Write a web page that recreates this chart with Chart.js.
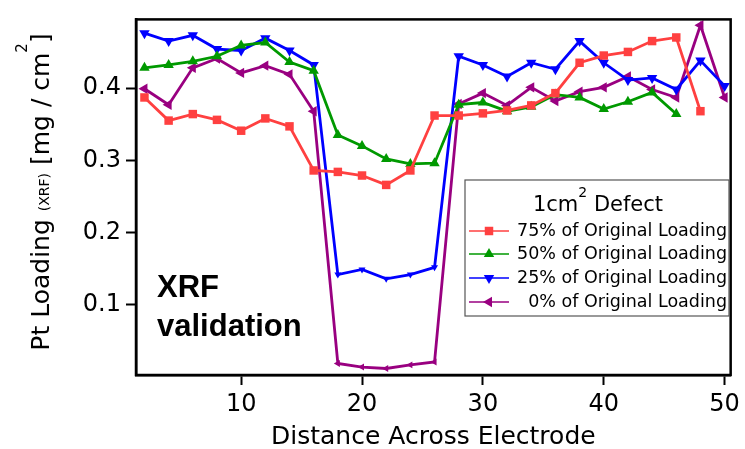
<!DOCTYPE html>
<html>
<head>
    <meta charset="utf-8" />
    <title>XRF validation</title>
    <script src="https://cdn.jsdelivr.net/npm/chart.js"></script>
    <style>
        body { margin: 0; background: #fff; }
    </style>
</head>
<body>
    <canvas id="myChart" width="745" height="449"></canvas>

    <script type="text/javascript">

        // distance positions across the electrode
        const distance = [2, 4, 6, 8, 10, 12, 14, 16, 18, 20, 22, 24, 26, 28, 30, 32, 34, 36, 38, 40, 42, 44, 46, 48, 50];

        // Pt loading (mg/cm2) per series
        const loading75 = [0.387, 0.355, 0.364, 0.356, 0.341, 0.358, 0.347, 0.286, 0.284, 0.279, 0.266, 0.286, 0.362, 0.362, 0.365, 0.369, 0.376, 0.393, 0.435, 0.445, 0.450, 0.465, 0.470, 0.368];
        const loading50 = [0.428, 0.432, 0.437, 0.444, 0.459, 0.463, 0.436, 0.424, 0.335, 0.320, 0.302, 0.295, 0.296, 0.377, 0.380, 0.368, 0.374, 0.391, 0.387, 0.371, 0.381, 0.394, 0.364];
        const loading25 = [0.476, 0.465, 0.473, 0.454, 0.452, 0.469, 0.452, 0.432, 0.142, 0.149, 0.136, 0.142, 0.152, 0.444, 0.432, 0.416, 0.435, 0.426, 0.465, 0.435, 0.411, 0.414, 0.398, 0.438, 0.403];
        const loading0 = [0.399, 0.377, 0.428, 0.441, 0.421, 0.431, 0.419, 0.368, 0.019, 0.014, 0.012, 0.017, 0.021, 0.378, 0.393, 0.376, 0.401, 0.382, 0.395, 0.401, 0.416, 0.398, 0.387, 0.487, 0.387];

        const seriesLabels = ["75% of Original Loading", "50% of Original Loading", "25% of Original Loading", "0% of Original Loading"];
        const xTicks = [10, 20, 30, 40, 50];
        const yTicks = [0.1, 0.2, 0.3, 0.4];

        const FONT = "'DejaVu Sans', sans-serif";
        const colors = ["#ff4040", "#009900", "#0000ff", "#990080"];
        const shapes = ["rect", "triangle", "triangle", "triangle"];
        const rotations = [0, 0, 180, 270];

        const toPoints = ys => ys.map((y, i) => ({ x: distance[i], y: y }));

        // markers in the defect region are drawn smaller for the two low series
        const dipRadius = ctx => (ctx.raw && ctx.raw.x >= 18 && ctx.raw.x <= 26) ? 4 : 6;

        const makeSet = (k, ys, radius) => ({
            label: seriesLabels[k],
            data: toPoints(ys),
            borderColor: colors[k],
            backgroundColor: colors[k],
            borderWidth: 2.8,
            pointStyle: shapes[k],
            pointRotation: rotations[k],
            pointRadius: radius,
            pointBorderWidth: 0,
            tension: 0,
            clip: false
        });

        // draws text parts side by side, each with its own size and baseline shift
        const drawParts = (ctx, parts, x, y, align) => {
            let total = 0;
            parts.forEach(p => { ctx.font = p.s + "px " + FONT; p.w = ctx.measureText(p.t).width; total += p.w; });
            let px = align === "center" ? x - total / 2 : x;
            ctx.textAlign = "left";
            parts.forEach(p => {
                ctx.font = p.s + "px " + FONT;
                ctx.fillText(p.t, px, y + p.dy);
                px += p.w;
            });
        };

        // draws frame, y title with sub/superscript, legend box and annotation
        const decorations = {
            id: 'decorations',
            afterDraw(chart) {
                const ctx = chart.ctx;
                const a = chart.chartArea;
                ctx.save();

                // full frame round the plot
                ctx.strokeStyle = "#000";
                ctx.lineWidth = 2.5;
                ctx.strokeRect(a.left, a.top, a.right - a.left, a.bottom - a.top);

                // y axis title
                ctx.fillStyle = "#000";
                ctx.textBaseline = "alphabetic";
                ctx.translate(49, 192);
                ctx.rotate(-Math.PI / 2);
                drawParts(ctx, [
                    { t: "Pt Loading ", s: 25, dy: 0 },
                    { t: "(XRF)", s: 14, dy: 0 },
                    { t: " [mg / cm", s: 25, dy: 0 },
                    { t: "2", s: 15, dy: -22 },
                    { t: "]", s: 25, dy: 0 }
                ], 0, 0, "center");
                ctx.setTransform(1, 0, 0, 1, 0, 0);

                // annotation
                ctx.font = "bold 31px 'Liberation Sans', Arial, sans-serif";
                ctx.textAlign = "left";
                ctx.fillText("XRF", 157, 297);
                ctx.fillText("validation", 157, 336);

                // legend box
                const bx = 465, by = 180, bw = 264, bh = 136;
                ctx.fillStyle = "#fff";
                ctx.fillRect(bx, by, bw, bh);
                ctx.strokeStyle = "#555";
                ctx.lineWidth = 1.2;
                ctx.strokeRect(bx, by, bw, bh);

                // legend title 1cm^2 Defect
                ctx.fillStyle = "#000";
                drawParts(ctx, [
                    { t: "1cm", s: 21, dy: 0 },
                    { t: "2", s: 14, dy: -14 },
                    { t: " Defect", s: 21, dy: 0 }
                ], 598, 211, "center");

                // legend entries
                const rowY = [231, 254, 278, 302];
                chart.data.datasets.forEach((ds, k) => {
                    const y = rowY[k];
                    ctx.strokeStyle = ds.borderColor;
                    ctx.lineWidth = 1.5;
                    ctx.beginPath();
                    ctx.moveTo(469, y);
                    ctx.lineTo(509, y);
                    ctx.stroke();
                    ctx.fillStyle = ds.backgroundColor;
                    Chart.helpers.drawPoint(ctx, { pointStyle: ds.pointStyle, rotation: ds.pointRotation, radius: 6, borderWidth: 0 }, 489, y);
                    ctx.fillStyle = "#000";
                    ctx.font = "17.5px " + FONT;
                    ctx.textAlign = "right";
                    ctx.textBaseline = "middle";
                    ctx.fillText(ds.label, 727, y);
                    ctx.textAlign = "left";
                    ctx.textBaseline = "alphabetic";
                });

                ctx.restore();
            }
        };

        const ctx = document.getElementById('myChart');
        const chart = new Chart(ctx, {
            type: 'line',
            data: {
                datasets: [
                    makeSet(0, loading75, 6),
                    makeSet(1, loading50, 6),
                    makeSet(2, loading25, dipRadius),
                    makeSet(3, loading0, dipRadius)
                ]
            },
            options: {
                responsive: false,
                devicePixelRatio: 1,
                animation: false,
                layout: { padding: { left: 0, right: 11, top: 11, bottom: 0 } },
                plugins: {
                    legend: { display: false },
                    tooltip: { enabled: false }
                },
                scales: {
                    x: {
                        type: 'linear',
                        min: 1.3,
                        max: 50.5,
                        afterBuildTicks: s => { s.ticks = xTicks.map(v => ({ value: v })); },
                        afterFit: s => { s.height = 74; },
                        border: { display: true, color: '#000', width: 2.5 },
                        grid: { display: true, drawOnChartArea: false, drawTicks: true, tickLength: 10, tickWidth: 2, color: '#000' },
                        ticks: { color: '#000', font: { family: FONT, size: 24 }, padding: 5, maxRotation: 0 },
                        title: { display: true, text: 'Distance Across Electrode', color: '#000', font: { family: FONT, size: 25 }, padding: { top: 0, bottom: -3 } }
                    },
                    y: {
                        min: 0.003,
                        max: 0.495,
                        afterBuildTicks: s => { s.ticks = yTicks.map(v => ({ value: v })); },
                        afterFit: s => { s.width = 136; },
                        border: { display: true, color: '#000', width: 2.5 },
                        grid: { display: true, drawOnChartArea: false, drawTicks: true, tickLength: 10, tickWidth: 2, color: '#000' },
                        ticks: { color: '#000', font: { family: FONT, size: 24 }, padding: 5, callback: v => v.toFixed(1) }
                    }
                }
            },
            plugins: [decorations]
        });

    </script>
</body>
</html>
